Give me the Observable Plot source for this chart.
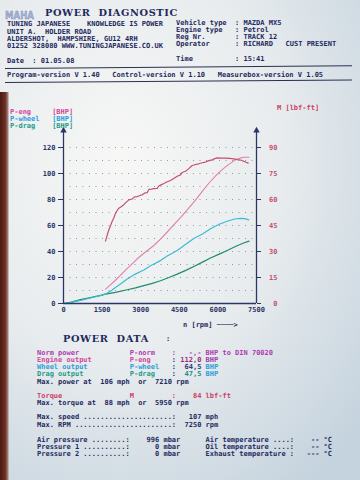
<!DOCTYPE html>
<html><head><meta charset="utf-8">
<script src="https://cdn.jsdelivr.net/npm/d3@7"></script>
<script src="https://cdn.jsdelivr.net/npm/@observablehq/plot@0.6"></script>
<style>
html,body{margin:0;padding:0;}
body{width:360px;height:480px;overflow:hidden;}
#page{position:relative;width:360px;height:480px;overflow:hidden;
  background: radial-gradient(ellipse 320px 400px at 120px 160px, #f7f7f6 0%, #e8ecee 50%, #c5d3de 100%);
  font-family:"DejaVu Sans Mono",monospace;font-weight:bold;font-size:7px;color:#1e2a5e;}
.t{position:absolute;white-space:pre;line-height:7px;z-index:2;}
.title{font-family:"DejaVu Serif",serif;font-weight:bold;font-size:9.8px;letter-spacing:0.6px;line-height:10px;}
.logo{font-family:"DejaVu Sans",sans-serif;font-weight:bold;font-size:11px;line-height:11px;color:#a9b5d2;-webkit-text-stroke:0.5px #7f90bb;transform:scaleX(0.78);transform-origin:left center;}
.sep{position:absolute;height:1.2px;background:#2a3050;transform-origin:left center;}
.edge{position:absolute;left:0;top:92px;width:9px;height:388px;background:linear-gradient(to right,#4a1a12,#6e3024 60%,#a88a80 90%,rgba(200,190,185,0));}
#chart{position:absolute;left:0;top:118px;z-index:1;}
.eng{color:#d2479a}.whl{color:#2f9ed8}.drg{color:#1f9c88}.trq{color:#cf3d66}.nrm{color:#b03cb0}
</style></head>
<body><div id="page"><div class="edge"></div><div id="chart"></div></div>
<script>
// ---- data ----
const rpmTicks = [0, 1500, 3000, 4500, 6000, 7500];
const bhpTicks = [0, 20, 40, 60, 80, 100, 120];
const torqueTickLabels = ["0", "15", "30", "45", "60", "75", "90"];
const gridBhp = [10, 20, 30, 40, 50, 60, 70, 80, 90, 100, 110, 120];

const torqueRpm = [1632,1700,1762,1830,1892,1960,2021,2080,2150,2240,2344,2440,2539,2668,2760,2864,2960,3058,3160,3253,3316,3420,3510,3641,3700,3770,3900,4030,4160,4286,4420,4547,4613,4740,4870,5001,5130,5258,5390,5518,5650,5778,5880,5973,6100,6295,6450,6618,6750,6878,6980,7073,7178];
const torqueLbft = [36,39.5,42.5,45,47.5,49.5,52,53.5,55,55.8,57,58.5,59.8,60.3,61.5,61.6,62.3,62.7,63.8,63.9,65.8,66,66.3,66.4,67.8,68.3,69.2,70.2,71,72.1,73.4,74.2,75.6,76.3,77.8,79.6,80.2,80.6,81.2,81.6,82.4,82.9,83.6,84,83.9,83.9,83.7,83.4,83,82.8,82.2,81.6,81];

const engRpm = [1632,1800,2000,2200,2400,2668,2900,3150,3510,3770,4030,4352,4547,4850,5129,5400,5647,5900,6166,6420,6684,6880,7008,7210];
const engBhp = [11,14,17.5,21.5,25.5,30.5,35,39,44.6,49.5,55,62,66,73,79.5,86.5,92.5,98,103,107,110.5,112,112.5,112.5];

const wheelRpm = [0,300,660,900,1178,1438,1632,1826,2021,2215,2475,2732,3122,3381,3770,4030,4418,4750,5064,5400,5712,6050,6361,6650,6878,7050,7200];
const wheelBhp = [0,0.8,2.3,3.5,4.8,6,7.3,9.5,12.3,15,18.8,22,25.8,29,33,36.5,40.8,45.5,50,53.5,57.5,61,63.3,65,65.5,65.3,64.3];

const dragRpm = [0,300,660,900,1178,1438,1632,2021,2475,2800,3122,3450,3770,4100,4418,4750,5064,5400,5712,6050,6361,6700,7000,7210];
const dragBhp = [0,1,3,4,5.2,6.2,7.2,8.6,10.6,12,13.7,15.5,17.5,20,22.6,25.5,28.5,31.8,35,38,40.8,44,46.5,48];

// ---- chart ----
const k = bhpTicks[bhpTicks.length - 1] / +torqueTickLabels[torqueTickLabels.length - 1];
const toRows = (xs, ys, f = 1) => xs.map((x, i) => ({rpm: x, v: ys[i] * f}));
const torque = toRows(torqueRpm, torqueLbft, k);
const eng = toRows(engRpm, engBhp);
const wheel = toRows(wheelRpm, wheelBhp);
const drag = toRows(dragRpm, dragBhp);
const axisTop = 133;
const ink = "#2c3565";

const chart = Plot.plot({
  width: 360, height: 200,
  marginLeft: 63, marginRight: 104, marginTop: 29, marginBottom: 15,
  x: {domain: [0, 7500]},
  y: {domain: [0, 120]},
  style: {background: "transparent", overflow: "visible", fontFamily: "'DejaVu Sans Mono', monospace", fontSize: "7px", fontWeight: "bold", color: ink},
  marks: [
    Plot.ruleY(gridBhp, {stroke: "#8a96a6", strokeDasharray: "1,5.5", strokeWidth: 1}),
    Plot.line(drag, {x: "rpm", y: "v", stroke: "#1f8a6c", strokeWidth: 1.2}),
    Plot.line(wheel, {x: "rpm", y: "v", stroke: "#3dbbd2", strokeWidth: 1.2}),
    Plot.line(eng, {x: "rpm", y: "v", stroke: "#e27fae", strokeWidth: 1.1}),
    Plot.line(torque, {x: "rpm", y: "v", stroke: "#c4506f", strokeWidth: 1.2}),
    Plot.ruleY([0], {stroke: ink, strokeWidth: 1.3}),
    Plot.ruleX([rpmTicks[0], rpmTicks[rpmTicks.length - 1]], {y1: 0, y2: axisTop, stroke: ink, strokeWidth: 1.3}),
    Plot.dot([rpmTicks[0], rpmTicks[rpmTicks.length - 1]], {x: d => d, y: axisTop, symbol: "triangle", r: 2.4, fill: ink, stroke: "none"}),
    Plot.axisY(bhpTicks, {anchor: "left", tickSize: 5, tickPadding: 3, label: null, color: ink}),
    Plot.axisY(bhpTicks, {anchor: "right", tickSize: 4, tickPadding: 17, textAnchor: "end", label: null, stroke: ink, fill: "#c8506e",
      tickFormat: d => torqueTickLabels[bhpTicks.indexOf(d)]}),
    Plot.axisX(rpmTicks, {tickSize: 0, tickPadding: 4, label: null, color: ink, tickFormat: d => String(d)})
  ]
});
document.getElementById("chart").appendChild(chart);

// ---- texts ----
const page = document.getElementById("page");
function put(x, yc, html, cls = "t", h = 7) {
  const d = document.createElement("div");
  d.className = cls.includes("t") ? cls : "t " + cls;
  d.style.left = x + "px";
  d.style.top = (yc - h / 2) + "px";
  d.innerHTML = html;
  page.appendChild(d);
}
function sep(x1, y1, x2, y2) {
  const d = document.createElement("div");
  d.className = "sep";
  const len = Math.hypot(x2 - x1, y2 - y1);
  d.style.left = x1 + "px"; d.style.top = y1 + "px"; d.style.width = len + "px";
  d.style.transform = `rotate(${Math.atan2(y2 - y1, x2 - x1)}rad)`;
  page.appendChild(d);
}

put(5, 15, "MAHA", "t logo", 11);
put(45, 12.5, "POWER  DIAGNOSTIC", "t title", 10);

put(7, 24.8, "TUNING JAPANESE    KNOWLEDGE IS POWER");
put(7, 32, "UNIT A.  HOLDER ROAD");
put(7, 39.3, "ALDERSHOT,  HAMPSHIRE, GU12 4RH");
put(7, 46.5, "01252 328080 WWW.TUNINGJAPANESE.CO.UK");
put(7, 61.5, "Date  : 01.05.08");

put(176, 23.3, "Vehicle type  : MAZDA MX5");
put(176, 30.3, "Engine type   : Petrol");
put(176, 37.3, "Reg Nr.       : TRACK 12");
put(176, 44.3, "Operator      : RICHARD   CUST PRESENT");
put(176, 59.5, "Time          : 15:41");

sep(5, 68.3, 352, 65.6);
put(7, 75, "Program-version V 1.40   Control-version V 1.10   Measurebox-version V 1.05");
sep(5, 82.2, 352, 79.6);

put(10, 112.2, '<span class="eng">P-eng     [BHP]</span>');
put(10, 119.2, '<span class="whl">P-wheel   [BHP]</span>');
put(10, 126.2, '<span class="drg">P-drag    [BHP]</span>');
put(277, 108, '<span class="trq">M [lbf-ft]</span>');

put(183, 325, "n [rpm] ────>");
put(63, 339, "POWER  DATA", "t title", 10);
put(166, 339, ":");

put(37, 353.3, '<span class="nrm">Norm power            P-norm    :   -,- BHP to DIN 70020</span>');
put(37, 360.5, '<span class="eng">Engine output         P-eng     </span>: <span style="color:#9a2f80">112,0</span> <span style="color:#a040a8">BHP</span>');
put(37, 367.7, '<span class="whl">Wheel output          P-wheel   </span>:  <span style="color:#2a3a78">64,5</span> <span class="whl">BHP</span>');
put(37, 374.9, '<span class="drg">Drag output           P-drag    </span>:  <span style="color:#1f8c80">47,5</span> <span class="whl">BHP</span>');
put(37, 382.5, "Max. power at  106 mph  or  7210 rpm");
put(37, 396, '<span class="trq">Torque                M         :    84 lbf-ft</span>');
put(37, 403.3, "Max. torque at  88 mph  or  5950 rpm");
put(37, 417.8, "Max. speed .....................:   107 mph");
put(37, 425, "Max. RPM .......................:  7250 rpm");
put(37, 440, "Air pressure ........:    996 mbar      Air temperature ....:    -- °C");
put(37, 447, "Pressure 1 ..........:      0 mbar      Oil temperature ....:    -- °C");
put(37, 454, "Pressure 2 ..........:      0 mbar      Exhaust temperature :   --- °C");
</script>
</body></html>
